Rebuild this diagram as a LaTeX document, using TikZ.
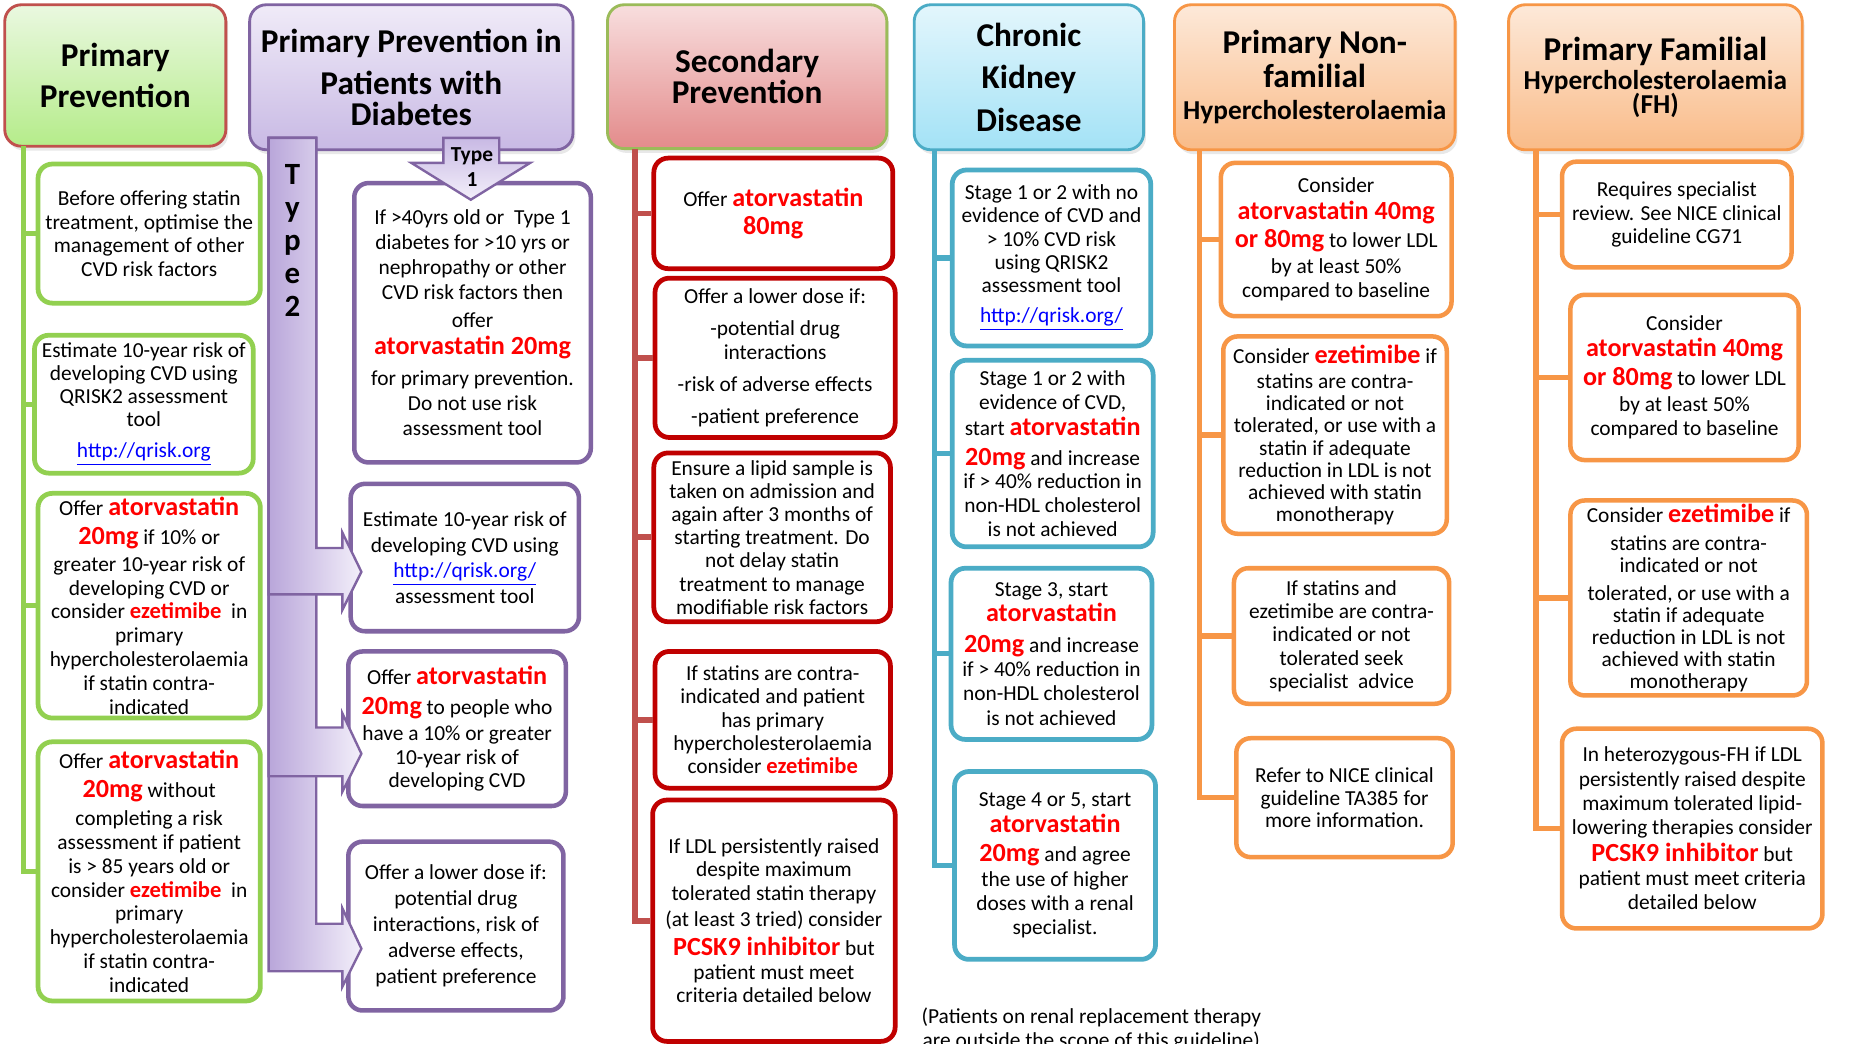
\documentclass[tikz,border=0pt]{standalone}
\usepackage{fontspec}
\setmainfont{Carlito}
\usetikzlibrary{shadows}
\definecolor{gline}{HTML}{92D050}
\definecolor{pline}{HTML}{8064A2}
\definecolor{rtrunk}{HTML}{C0504D}
\definecolor{rbox}{HTML}{C00000}
\definecolor{bline}{HTML}{4BACC6}
\definecolor{oline}{HTML}{F79646}
\definecolor{sgreen}{HTML}{9BBB59}
\definecolor{hlred}{HTML}{FF0000}
\definecolor{lnkblue}{HTML}{0000FF}
\definecolor{ppTop}{HTML}{EAF8E0}
\definecolor{ppBot}{HTML}{B5EC8A}
\definecolor{pdTop}{HTML}{F0EBF8}
\definecolor{pdBot}{HTML}{C8B9E4}
\definecolor{spTop}{HTML}{F8DEDE}
\definecolor{spBot}{HTML}{E38B8B}
\definecolor{ckTop}{HTML}{E3F6FC}
\definecolor{ckBot}{HTML}{A3E2F6}
\definecolor{orTop}{HTML}{FDE9D9}
\definecolor{orBot}{HTML}{F9BB88}
\definecolor{arDark}{HTML}{B9A6DA}
\definecolor{arLight}{HTML}{F3EFFA}
\newcommand{\redtx}[1]{{\fontsize{11}{11}\selectfont\bfseries\color{hlred}#1}}
\newcommand{\redsm}[1]{{\fontsize{9.5}{9.5}\selectfont\bfseries\color{hlred}#1}}
\newcommand{\linktx}[1]{{\color{lnkblue}\underline{#1}}}
\newcommand{\bodyfont}[1]{\fontsize{9}{#1}\selectfont\lineskiplimit=-30pt\relax}
\newcommand{\hdrfont}[1]{\fontsize{14}{#1}\selectfont\bfseries\lineskiplimit=-30pt\relax}
\newcommand{\midhdr}[1]{{\fontsize{11.5}{11.5}\selectfont #1}}
\tikzset{
  area/.style n args={4}{at={({(#1+#3)/2},{(#2+#4)/2})}, minimum width={(#3-#1)*0.5pt}, minimum height={(#4-#2)*0.5pt}},
  boxbase/.style={rounded corners=6pt, fill=white, line width=2pt, inner sep=0pt, align=center, font=\bodyfont{10pt}},
  gbox/.style={boxbase, draw=gline},
  pbox/.style={boxbase, draw=pline, line width=1.9pt},
  sbox/.style={boxbase, draw=rbox},
  cbox/.style={boxbase, draw=bline},
  obox/.style={boxbase, draw=oline, line width=1.9pt},
  hdr/.style={rounded corners=7pt, line width=1.2pt, inner sep=0pt, align=center,
     drop shadow={opacity=0.18, shadow xshift=1pt, shadow yshift=-1.8pt}},
  trunkg/.style={line width=2.2pt, draw=gline},
  trunks/.style={line width=2.4pt, draw=rtrunk},
  trunkc/.style={line width=2.2pt, draw=bline},
  trunko/.style={line width=2.2pt, draw=oline},
  bentarrow/.style={draw=pline, line width=1pt, left color=arDark, right color=arLight},
}
\newcommand{\bentarr}[5]{%
  \path[bentarrow] (226,116) -- (266,116) -- (266,#1) -- (288,#1) -- (288,#3) -- (304,#4) -- (288,#5) -- (288,#2) -- (226,#2) -- cycle;}
\begin{document}
\begin{tikzpicture}[x=0.5pt,y=-0.5pt]
\fill[white] (0,0) rectangle (1568,878);
\useasboundingbox (0,0) rectangle (1568,878);
\clip (0,0) rectangle (1568,878);

% ---------- headers ----------
\node[hdr, draw=rtrunk, top color=ppTop, bottom color=ppBot, area={4}{4}{190}{123}, font=\hdrfont{17.5pt}] (hg) {Primary\\Prevention};
\node[hdr, draw=pline, top color=pdTop, bottom color=pdBot, area={210}{4}{482}{126}, font=\hdrfont{13pt}] (hd) {Primary Prevention in\\[4.5pt]Patients with\\Diabetes};
\node[hdr, draw=sgreen, top color=spTop, bottom color=spBot, area={511}{4}{746}{125}, font=\hdrfont{13pt}] (hs) {Secondary\\Prevention};
\node[hdr, draw=bline, top color=ckTop, bottom color=ckBot, area={769}{4}{962}{126}, font=\hdrfont{18pt}] (hc) {Chronic\\Kidney\\Disease};
\node[hdr, draw=oline, top color=orTop, bottom color=orBot, area={988}{4}{1224}{126}, font=\hdrfont{13.7pt}] (hn) {Primary Non-\\[0.5pt]familial\\\midhdr{Hypercholesterolaemia}};
\node[hdr, draw=oline, top color=orTop, bottom color=orBot, area={1269}{4}{1516}{126}, font=\hdrfont{10pt}] (hf) {Primary Familial\\[2.5pt]\midhdr{Hypercholesterolaemia}\\\midhdr{(FH)}};

% ---------- green column ----------
\node[gbox, area={32}{138}{219}{255}, font=\bodyfont{9.85pt}] (g1) {Before offering statin\\treatment, optimise the\\management of other\\CVD risk factors};
\node[gbox, area={29}{282}{213}{398}, font=\bodyfont{9.7pt}] (g2) {Estimate 10-year risk of\\developing CVD using\\QRISK2 assessment\\tool\\[3.5pt]\linktx{http://qrisk.org}};
\node[gbox, area={32}{415}{219}{604}] (g3) {Offer \redtx{atorvastatin}\\[2pt]\redtx{20mg} if 10\% or\\[1.5pt]greater 10-year risk of\\developing CVD or\\consider \redsm{ezetimibe}\ \ in\\primary\\hypercholesterolaemia\\if statin contra-\\indicated};
\node[gbox, area={32}{624}{219}{842}] (g4) {Offer \redtx{atorvastatin}\\[2pt]\redtx{20mg} without\\[2pt]completing a risk\\assessment if patient\\is > 85 years old or\\consider \redsm{ezetimibe}\ \ in\\primary\\hypercholesterolaemia\\if statin contra-\\indicated};

% ---------- purple column ----------
\node[pbox, area={298}{154}{497}{389}, font=\bodyfont{10.5pt}] (p1) {If >40yrs old or\ \ Type 1\\diabetes for >10 yrs or\\nephropathy or other\\CVD risk factors then\\[1pt]offer\\[1pt]\redtx{atorvastatin 20mg}\\[2.5pt]for primary prevention.\\Do not use risk\\assessment tool};
\node[pbox, area={295}{407}{487}{531}, font=\bodyfont{10.8pt}] (p2) {Estimate 10-year risk of\\developing CVD using\\\linktx{http://qrisk.org/}\\assessment tool};
\node[pbox, area={293}{548}{476}{678}] (p3) {Offer \redtx{atorvastatin}\\[2.5pt]\redtx{20mg} to people who\\[1pt]have a 10\% or greater\\10-year risk of\\developing CVD};
\node[pbox, area={293}{708}{474}{850}, font=\bodyfont{10.9pt}] (p4) {Offer a lower dose if:\\potential drug\\interactions, risk of\\adverse effects,\\patient preference};

% ---------- red column ----------
\node[sbox, area={550}{133}{751}{226}, font=\bodyfont{12pt}] (s1) {Offer \redtx{atorvastatin}\\\redtx{80mg}};
\node[sbox, area={551}{234}{753}{368}] (s2) {Offer a lower dose if:\\[3.5pt]-potential drug\\interactions\\[3.5pt]-risk of adverse effects\\[3.5pt]-patient preference};
\node[sbox, area={550}{381}{749}{523}, font=\bodyfont{9.75pt}] (s3) {Ensure a lipid sample is\\taken on admission and\\again after 3 months of\\starting treatment. Do\\not delay statin\\treatment to manage\\modifiable risk factors};
\node[sbox, area={551}{548}{749}{663}, font=\bodyfont{9.75pt}] (s4) {If statins are contra-\\indicated and patient\\has primary\\hypercholesterolaemia\\consider \redsm{ezetimibe}};
\node[sbox, area={549}{673}{753}{876}] (s5) {If LDL persistently raised\\despite maximum\\tolerated statin therapy\\[1pt](at least 3 tried) consider\\[2pt]\redtx{PCSK9 inhibitor} but\\patient must meet\\criteria detailed below};

% ---------- blue column ----------
\node[cbox, area={801}{143}{968}{291}, font=\bodyfont{9.75pt}] (c1) {Stage 1 or 2 with no\\evidence of CVD and\\> 10\% CVD risk\\using QRISK2\\assessment tool\\[3pt]\linktx{http://qrisk.org/}};
\node[cbox, area={801}{303}{970}{460}] (c2) {Stage 1 or 2 with\\evidence of CVD,\\[1pt]start \redtx{atorvastatin}\\[2.5pt]\redtx{20mg} and increase\\if > 40\% reduction in\\non-HDL cholesterol\\is not achieved};
\node[cbox, area={800}{478}{969}{622}, font=\bodyfont{10.2pt}] (c3) {Stage 3, start\\[0.5pt]\redtx{atorvastatin}\\[2.8pt]\redtx{20mg} and increase\\if > 40\% reduction in\\non-HDL cholesterol\\is not achieved};
\node[cbox, area={803}{649}{972}{807}, font=\bodyfont{10.2pt}] (c4) {Stage 4 or 5, start\\[0.5pt]\redtx{atorvastatin}\\[2.3pt]\redtx{20mg} and agree\\the use of higher\\doses with a renal\\specialist.};
\node[font=\bodyfont{10pt}, align=center] (note) at (918,866) {(Patients on renal replacement therapy\\are outside the scope of this guideline)};

% ---------- orange column N ----------
\node[obox, area={1027}{137}{1221}{266}] (n1) {Consider\\[1pt]\redtx{atorvastatin 40mg}\\[2pt]\redtx{or 80mg} to lower LDL\\[1pt]by at least 50\%\\compared to baseline};
\node[obox, area={1029}{283}{1217}{449}, font=\bodyfont{9.3pt}] (n2) {Consider \redtx{ezetimibe} if\\[1.2pt]statins are contra-\\indicated or not\\tolerated, or use with a\\statin if adequate\\reduction in LDL is not\\achieved with statin\\monotherapy};
\node[obox, area={1038}{478}{1219}{592}, font=\bodyfont{9.8pt}] (n3) {If statins and\\ezetimibe are contra-\\indicated or not\\tolerated seek\\specialist\ \ advice};
\node[obox, area={1040}{621}{1222}{721}, font=\bodyfont{9.3pt}] (n4) {Refer to NICE clinical\\guideline TA385 for\\more information.};

% ---------- orange column F ----------
\node[obox, area={1314}{136}{1507}{225}, font=\bodyfont{9.75pt}] (f1) {Requires specialist\\review. See NICE clinical\\guideline CG71};
\node[obox, area={1321}{248}{1513}{387}] (f2) {Consider\\[1pt]\redtx{atorvastatin 40mg}\\[2pt]\redtx{or 80mg} to lower LDL\\[1pt]by at least 50\%\\compared to baseline};
\node[obox, area={1321}{421}{1520}{585}, font=\bodyfont{9.3pt}] (f3) {Consider \redtx{ezetimibe} if\\[2.5pt]statins are contra-\\indicated or not\\[2.5pt]tolerated, or use with a\\statin if adequate\\reduction in LDL is not\\achieved with statin\\monotherapy};
\node[obox, area={1314}{613}{1533}{781}, font=\bodyfont{10.2pt}] (f4) {In heterozygous-FH if LDL\\persistently raised despite\\maximum tolerated lipid-\\lowering therapies consider\\[1pt]\redtx{PCSK9 inhibitor} but\\patient must meet criteria\\detailed below};

% ---------- trunks and branches ----------
\coordinate (gt) at (20,123);
\coordinate (st) at (534,125);
\coordinate (ct) at (786,126);
\coordinate (nt) at (1009,126);
\coordinate (ft) at (1292,126);
\draw[trunkg] (gt) |- (g4.west);
\foreach \b in {g1,g2,g3} \draw[trunkg] (gt |- \b.west) -- (\b.west);
\draw[trunks] (st) |- (s5.west);
\foreach \b in {s1,s2,s3,s4} \draw[trunks] (st |- \b.west) -- (\b.west);
\draw[trunkc] (ct) |- (c4.west);
\foreach \b in {c1,c2,c3} \draw[trunkc] (ct |- \b.west) -- (\b.west);
\draw[trunko] (nt) |- (n4.west);
\foreach \b in {n1,n2,n3} \draw[trunko] (nt |- \b.west) -- (\b.west);
\draw[trunko] (ft) |- (f4.west);
\foreach \b in {f1,f2,f3} \draw[trunko] (ft |- \b.west) -- (\b.west);

% ---------- Type 2 bent arrows ----------
\bentarr{777}{817}{764}{798}{830}
\bentarr{612}{653}{600}{634}{666}
\bentarr{461}{500}{448}{481}{513}
\node[font=\fontsize{13}{13.9}\selectfont\bfseries, align=center, inner sep=0pt] (t2) at (246,202) {T\\y\\p\\e\\2};

% ---------- Type 1 arrow ----------
\path[draw=pline, line width=1pt, top color=pdBot, bottom color=arLight]
  (373,116) -- (420,116) -- (420,137) -- (446,137) -- (396,168) -- (346,137) -- (373,137) -- cycle;
\node[font=\fontsize{9}{10.5}\selectfont\bfseries, align=center, inner sep=0pt] (t1) at (397,140.5) {Type\\1};
\end{tikzpicture}
\end{document}
